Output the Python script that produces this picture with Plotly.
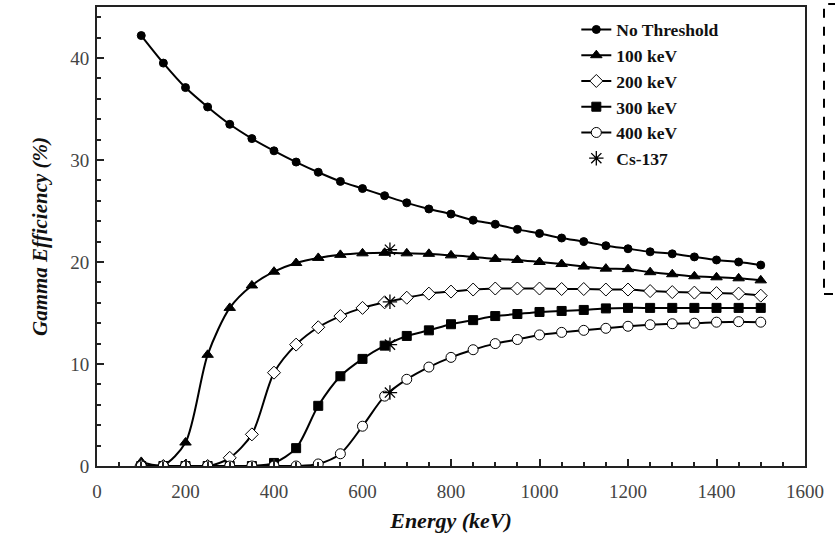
import plotly.graph_objects as go

energy = [100, 150, 200, 250, 300, 350, 400, 450, 500, 550, 600, 650, 700, 750, 800,
          850, 900, 950, 1000, 1050, 1100, 1150, 1200, 1250, 1300, 1350, 1400, 1450, 1500]

no_threshold = [42.2, 39.5, 37.1, 35.2, 33.5, 32.1, 30.9, 29.8, 28.8, 27.9, 27.2, 26.5, 25.8, 25.2, 24.7,
                24.1, 23.7, 23.2, 22.8, 22.35, 22.0, 21.6, 21.3, 21.0, 20.8, 20.5, 20.2, 20.0, 19.7]
thr_100 = [0.4, 0.1, 2.3, 10.9, 15.5, 17.7, 19.05, 19.9, 20.4, 20.7, 20.85, 20.9, 20.85, 20.8, 20.65,
           20.5, 20.3, 20.2, 20.0, 19.8, 19.55, 19.35, 19.3, 19.0, 18.8, 18.6, 18.5, 18.4, 18.2]
thr_200 = [0.0, 0.0, 0.0, 0.0, 0.8, 3.1, 9.15, 11.9, 13.6, 14.7, 15.5, 16.05, 16.5, 16.9, 17.1,
           17.3, 17.4, 17.4, 17.4, 17.35, 17.35, 17.3, 17.3, 17.15, 17.05, 17.0, 16.95, 16.9, 16.7]
thr_300 = [0.0, 0.0, 0.0, 0.0, 0.0, 0.0, 0.3, 1.75, 5.9, 8.8, 10.5, 11.8, 12.75, 13.3, 13.9,
           14.3, 14.7, 14.9, 15.1, 15.2, 15.3, 15.45, 15.5, 15.5, 15.5, 15.5, 15.5, 15.5, 15.5]
thr_400 = [0.0, 0.0, 0.0, 0.0, 0.0, 0.0, 0.0, 0.0, 0.2, 1.2, 3.9, 6.85, 8.5, 9.7, 10.65,
           11.4, 12.0, 12.4, 12.85, 13.1, 13.3, 13.5, 13.7, 13.85, 13.95, 14.0, 14.1, 14.15, 14.1]

cs_energy = [662, 662, 662, 662]
cs_eff = [21.2, 16.1, 11.9, 7.2]

series_names = ["No Threshold", "100 keV", "200 keV", "300 keV", "400 keV"]
x_ticks = [0, 200, 400, 600, 800, 1000, 1200, 1400, 1600]
y_ticks = [0, 10, 20, 30, 40]

SERIF = "Liberation Serif, Times New Roman, serif"

styles = [
    dict(symbol="circle", size=8, color="black", line=dict(color="black", width=1)),
    dict(symbol="triangle-up", size=10, color="black", line=dict(color="black", width=1)),
    dict(symbol="diamond", size=10, color="white", line=dict(color="black", width=1)),
    dict(symbol="square", size=9, color="black", line=dict(color="black", width=1)),
    dict(symbol="circle", size=10, color="white", line=dict(color="black", width=1)),
]

fig = go.Figure()
for i, (name, vals) in enumerate(zip(series_names, [no_threshold, thr_100, thr_200, thr_300, thr_400])):
    fig.add_trace(go.Scatter(
        x=energy, y=vals, name=name, mode="lines+markers",
        line=dict(color="black", width=2, shape="spline", smoothing=0.8),
        marker=styles[i],
    ))

fig.add_trace(go.Scatter(
    x=cs_energy, y=cs_eff, name="Cs-137", mode="markers",
    marker=dict(symbol="asterisk-open", size=12, color="black", line=dict(color="black", width=1.3)),
))

fig.update_layout(
    template="none",
    width=835, height=533,
    margin=dict(l=97, r=30, t=7, b=67, autoexpand=False),
    paper_bgcolor="white", plot_bgcolor="white",
    font=dict(family=SERIF, color="#222"),
    showlegend=True,
    legend=dict(
        x=0.677, y=0.99, xanchor="left", yanchor="top",
        bgcolor="rgba(0,0,0,0)", borderwidth=0,
        font=dict(family=SERIF, size=17.5, color="#111", weight="bold"),
    ),
    xaxis=dict(
        range=[0, 1600], tickvals=x_ticks, ticks="inside", ticklen=7, tickwidth=1.5,
        tickcolor="#222", showline=True, linecolor="#222", linewidth=2, mirror=True,
        showgrid=False, zeroline=False, automargin=False, ticklabelstandoff=7,
        tickfont=dict(family=SERIF, size=19, color="#444"),
        minor=dict(dtick=50, ticks="inside", ticklen=4, tickwidth=1.5, tickcolor="#222", showgrid=False),
        title=dict(text="<b><i>Energy (keV)</i></b>", font=dict(family=SERIF, size=22, color="#111"), standoff=13),
    ),
    yaxis=dict(
        range=[0, 45], tickvals=y_ticks, ticks="inside", ticklen=7, tickwidth=1.5,
        tickcolor="#222", showline=True, linecolor="#222", linewidth=2, mirror=True,
        showgrid=False, zeroline=False, automargin=False, ticklabelstandoff=2,
        tickfont=dict(family=SERIF, size=19, color="#444"),
        minor=dict(dtick=2, ticks="inside", ticklen=4, tickwidth=1.5, tickcolor="#222", showgrid=False),
        title=dict(text="<b><i>Gamma Efficiency (%)</i></b>", font=dict(family=SERIF, size=21, color="#111"), standoff=17),
    ),
)

fig.add_shape(type="rect", xref="paper", yref="paper",
              x0=(824 - 97) / 708, x1=1.2, y0=(466 - 294) / 459, y1=(466 - 4) / 459,
              line=dict(color="black", width=2, dash="dash"), layer="above")

fig.write_html("out.html", config={"displayModeBar": False},
               post_script="document.body.style.margin='0';document.body.style.overflow='hidden';")
